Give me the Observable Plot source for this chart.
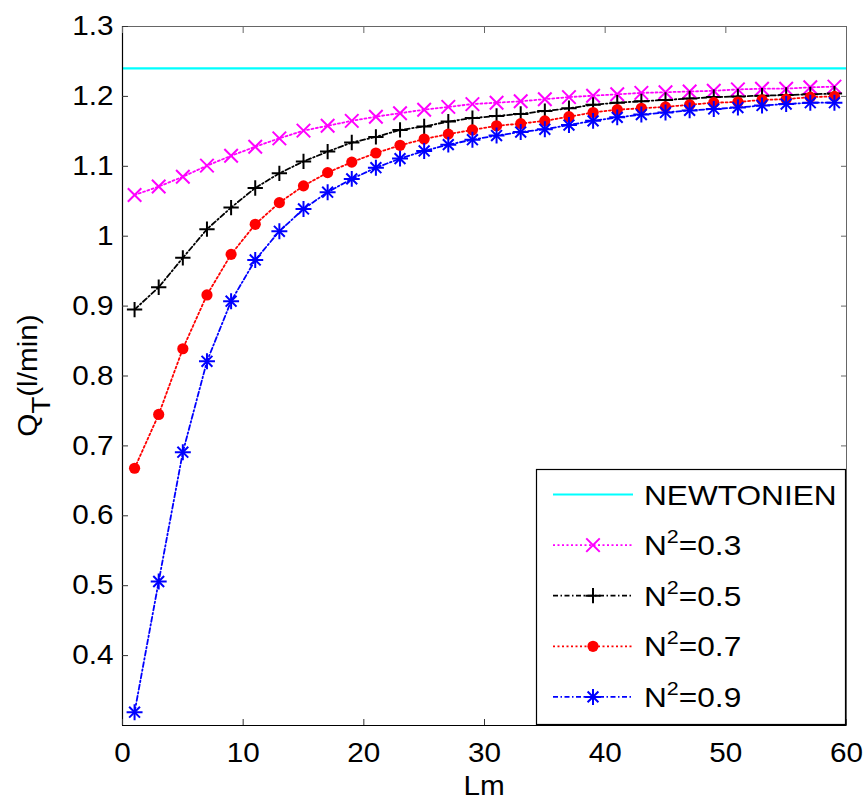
<!DOCTYPE html>
<html>
<head>
<meta charset="utf-8">
<script src="https://cdn.jsdelivr.net/npm/d3@7"></script>
<script src="https://cdn.jsdelivr.net/npm/@observablehq/plot@0.6"></script>
<style>
  html, body { margin: 0; padding: 0; background: #fff; }
  #chart { width: 866px; height: 804px; }
</style>
</head>
<body>
<div id="chart"></div>
<script>
// ---------- data ----------
const lm = [1,3,5,7,9,11,13,15,17,19,21,23,25,27,29,31,33,35,37,39,41,43,45,47,49,51,53,55,57,59];
const qNewtonien = 1.24;
const qN03 = [1.059,1.071,1.085,1.101,1.115,1.128,1.140,1.151,1.158,1.165,1.171,1.176,1.181,1.185,1.189,1.191,1.193,1.196,1.199,1.201,1.203,1.205,1.206,1.207,1.208,1.210,1.211,1.211,1.213,1.214];
const qN05 = [0.895,0.927,0.969,1.010,1.041,1.069,1.090,1.107,1.121,1.134,1.142,1.152,1.157,1.164,1.169,1.172,1.175,1.179,1.183,1.188,1.191,1.193,1.195,1.197,1.199,1.200,1.201,1.202,1.203,1.204];
const qN07 = [0.668,0.745,0.839,0.916,0.974,1.017,1.048,1.072,1.091,1.106,1.119,1.130,1.139,1.146,1.152,1.158,1.161,1.165,1.171,1.177,1.181,1.183,1.185,1.188,1.191,1.192,1.195,1.196,1.199,1.200];
const qN09 = [0.319,0.506,0.691,0.821,0.907,0.966,1.007,1.039,1.063,1.082,1.098,1.111,1.122,1.131,1.138,1.144,1.149,1.153,1.159,1.165,1.170,1.174,1.177,1.180,1.182,1.184,1.187,1.189,1.191,1.191];
const seriesKeys = ["0.3","0.5","0.7","0.9"];
const newtonLabel = "NEWTONIEN";
const xTicks = [0,10,20,30,40,50,60];
const xTickLabels = ["0","10","20","30","40","50","60"];
const yTicks = [0.4,0.5,0.6,0.7,0.8,0.9,1.0,1.1,1.2,1.3];
const yTickLabels = ["0.4","0.5","0.6","0.7","0.8","0.9","1","1.1","1.2","1.3"];
const xTitle = "Lm";
const yTitleMain = "Q", yTitleSub = "T", yTitleRest = "(l/min)";
const xDomain = [0, 60];
const yDomain = [0.3, 1.3];

// ---------- styles ----------
const styles = {
  "0.3": {color: "#ff00ff", dash: "2,2.5", marker: "times"},
  "0.5": {color: "#000000", dash: "5,2.5,1.5,2.5", marker: "plus"},
  "0.7": {color: "#ff0000", dash: "2,2.5", marker: "circle"},
  "0.9": {color: "#0000ff", dash: "5,2.5,1.5,2.5", marker: "asterisk"}
};
const seriesValues = {"0.3": qN03, "0.5": qN05, "0.7": qN07, "0.9": qN09};
const FONT = "'Liberation Sans', Arial, Helvetica, sans-serif";
const STRETCH = 1.1;
const LEGEND_STRETCH = 1.13;
const R_TIMES = 6.2, R_PLUS = 5.0, R_CIRCLE = 5.6, R_AST_PLUS = 5.2, R_AST_TIMES = 5.0;

const tables = seriesKeys.map(k => seriesValues[k].map((q, i) => ({lm: lm[i], q, key: k})));

function markerMarks(data, key) {
  const s = styles[key];
  const base = {x: "lm", y: "q"};
  if (s.marker === "times") return [Plot.dot(data, {...base, symbol: "times", r: R_TIMES, stroke: s.color, strokeWidth: 2})];
  if (s.marker === "plus") return [Plot.dot(data, {...base, symbol: "plus", r: R_PLUS, stroke: s.color, strokeWidth: 2})];
  if (s.marker === "circle") return [Plot.dot(data, {...base, symbol: "circle", r: R_CIRCLE, fill: s.color, stroke: "none"})];
  return [
    Plot.dot(data, {...base, symbol: "plus", r: R_AST_PLUS, stroke: s.color, strokeWidth: 2}),
    Plot.dot(data, {...base, symbol: "times", r: R_AST_TIMES, stroke: s.color, strokeWidth: 2})
  ];
}

const marks = [
  Plot.ruleY([qNewtonien], {stroke: "#00ffff", strokeWidth: 2.2}),
  ...tables.map((t, i) => Plot.line(t, {x: "lm", y: "q", stroke: styles[seriesKeys[i]].color, strokeWidth: 1.8, strokeDasharray: styles[seriesKeys[i]].dash})),
  ...tables.flatMap((t, i) => markerMarks(t, seriesKeys[i])),
  Plot.frame({stroke: "#666", strokeWidth: 1}),
  Plot.ruleX([xDomain[0]], {stroke: "#000", strokeWidth: 1.2}),
  Plot.ruleY([yDomain[0]], {stroke: "#000", strokeWidth: 1.2}),
  Plot.axisX(xTicks, {anchor: "bottom", tickSize: -6, tickPadding: 23, stroke: "#333",
    tickFormat: d => xTickLabels[xTicks.indexOf(d)], label: null}),
  Plot.axisX(xTicks, {anchor: "top", tickSize: -6, stroke: "#666", tickFormat: () => "", label: null}),
  Plot.axisY(yTicks, {anchor: "left", tickSize: -6, tickPadding: 15, stroke: "#333",
    tickFormat: d => yTickLabels[yTicks.indexOf(d)], label: null}),
  Plot.axisY(yTicks, {anchor: "right", tickSize: -6, stroke: "#666", tickFormat: () => "", label: null})
];

const chart = Plot.plot({
  width: 866,
  height: 804,
  marginLeft: 122,
  marginRight: 20,
  marginTop: 26,
  marginBottom: 79,
  style: {fontFamily: FONT, fontSize: "27px", color: "#000", background: "#fff", overflow: "visible"},
  x: {domain: xDomain},
  y: {domain: yDomain},
  marks
});
document.getElementById("chart").appendChild(chart);

// horizontal stretch of axis tick labels to match the reference glyph widths
function stretch(el, s) {
  const t = el.getAttribute("transform") || "";
  const x = +el.getAttribute("x") || 0, y = +el.getAttribute("y") || 0;
  el.setAttribute("transform", `${t} translate(${x},${y}) scale(${s},1) translate(${-x},${-y})`);
}
chart.querySelectorAll("text").forEach(el => stretch(el, STRETCH));

const svg = d3.select(chart);
const sx = chart.scale("x"), sy = chart.scale("y");
const x0 = sx.apply(xDomain[0]), x1 = sx.apply(xDomain[1]);
const y0 = sy.apply(yDomain[0]), y1 = sy.apply(yDomain[1]);

// x title
svg.append("text")
  .attr("transform", `translate(${(x0 + x1) / 2},${y0 + 70}) scale(${STRETCH},1)`)
  .attr("text-anchor", "middle")
  .attr("font-family", FONT).attr("font-size", 27).attr("fill", "#000")
  .text(xTitle);

// y title with subscript
const yt = svg.append("text")
  .attr("transform", `translate(37,${(y0 + y1) / 2}) rotate(-90) scale(${STRETCH},1)`)
  .attr("text-anchor", "middle")
  .attr("font-family", FONT).attr("font-size", 27).attr("fill", "#000");
yt.append("tspan").text(yTitleMain);
yt.append("tspan").attr("font-size", 25).attr("dy", 13).text(yTitleSub);
yt.append("tspan").attr("dy", -13).text(yTitleRest);

// legend (anchored at the lower-right corner of the plot frame)
const LW = 310, LH = 256;
const lg = svg.append("g").attr("transform", `translate(${x1 - LW},${y0 - LH})`);
lg.append("rect").attr("x", 0.5).attr("y", 0.5).attr("width", LW - 1).attr("height", LH - 1)
  .attr("fill", "#fff").attr("stroke", "#000").attr("stroke-width", 1.2);
const rowY = i => 25.5 + i * 50.6;
const entries = [{key: null, label: newtonLabel}, ...seriesKeys.map(k => ({key: k, label: k}))];
const sym = (type, r) => d3.symbol(type, Math.PI * r * r)();
entries.forEach((e, i) => {
  const cy = rowY(i);
  const row = lg.append("g").attr("transform", `translate(0,${cy})`);
  if (e.key === null) {
    row.append("line").attr("x1", 17).attr("x2", 97).attr("y1", 0).attr("y2", 0)
      .attr("stroke", "#00ffff").attr("stroke-width", 2.2);
  } else {
    const s = styles[e.key];
    row.append("line").attr("x1", 17).attr("x2", 97).attr("y1", 0).attr("y2", 0)
      .attr("stroke", s.color).attr("stroke-width", 1.8).attr("stroke-dasharray", s.dash);
    const m = row.append("g").attr("transform", "translate(57,0)");
    if (s.marker === "times") m.append("path").attr("d", sym(d3.symbolTimes, R_TIMES)).attr("fill", "none").attr("stroke", s.color).attr("stroke-width", 2);
    else if (s.marker === "plus") m.append("path").attr("d", sym(d3.symbolPlus, R_PLUS)).attr("fill", "none").attr("stroke", s.color).attr("stroke-width", 2);
    else if (s.marker === "circle") m.append("circle").attr("r", R_CIRCLE).attr("fill", s.color);
    else {
      m.append("path").attr("d", sym(d3.symbolPlus, R_AST_PLUS)).attr("fill", "none").attr("stroke", s.color).attr("stroke-width", 2);
      m.append("path").attr("d", sym(d3.symbolTimes, R_AST_TIMES)).attr("fill", "none").attr("stroke", s.color).attr("stroke-width", 2);
    }
  }
  const t = row.append("text")
    .attr("transform", `translate(108,10) scale(${LEGEND_STRETCH},1)`)
    .attr("text-anchor", "start")
    .attr("font-family", FONT).attr("font-size", 28).attr("fill", "#000");
  if (e.key === null) {
    t.text(e.label);
  } else {
    t.append("tspan").text("N");
    t.append("tspan").attr("font-size", 19).attr("dy", -12).text("2");
    t.append("tspan").attr("dy", 12).text("=" + e.label);
  }
});
</script>
</body>
</html>
